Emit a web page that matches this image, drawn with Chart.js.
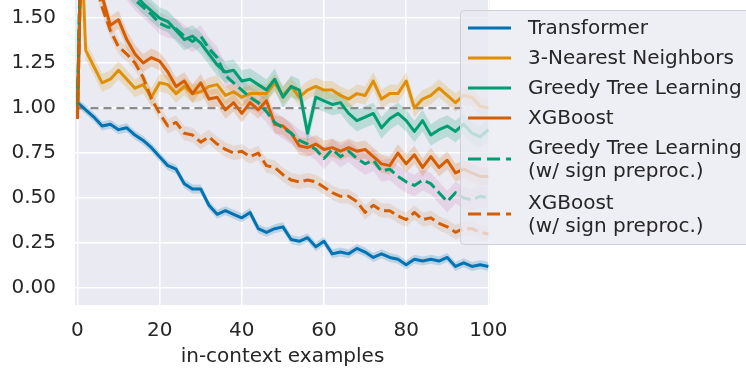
<!DOCTYPE html>
<html>
<head>
<meta charset="utf-8">
<script src="https://cdn.jsdelivr.net/npm/chart.js@4.4.1/dist/chart.umd.min.js"></script>
<style>
  html, body { margin: 0; padding: 0; background: #fff; overflow: hidden; }
  #wrap { position: relative; width: 746px; height: 377px; }
  #legend {
    position: absolute; left: 460px; top: 10px; width: 300px; height: 233px;
    background: rgba(234, 234, 242, 0.8); border: 1px solid #d0d0d8; border-radius: 4px;
    font-family: "DejaVu Sans", sans-serif; font-size: 20px; color: #262626;
  }
  .row { position: absolute; left: 0; display: flex; align-items: center; }
  .row svg { margin-left: 7px; margin-right: 17px; }
  .row span { line-height: 23px; white-space: pre; }
</style>
</head>
<body>
<div id="wrap">
  <canvas id="chart" width="746" height="377"></canvas>
  <div id="legend"></div>
</div>
<script>
// x positions of the evaluated points (in-context examples)
const xs = [0, 1, 2, 4, 6, 8, 10, 12, 14, 16, 18, 20, 22, 24, 26, 28, 30, 32, 34, 36, 38, 40,
  42, 44, 46, 48, 50, 52, 54, 56, 58, 60, 62, 64, 66, 68, 70, 72, 74, 76, 78, 80,
  82, 84, 86, 88, 90, 92, 94, 96, 98, 100];

const transformer = [1.03, 1.01, 0.99, 0.95, 0.90, 0.91, 0.88, 0.89, 0.85, 0.82, 0.78, 0.73, 0.68, 0.66,
  0.58, 0.55, 0.55, 0.46, 0.41, 0.43, 0.41, 0.39, 0.42, 0.33, 0.31, 0.33, 0.34, 0.27, 0.26, 0.28,
  0.23, 0.26, 0.19, 0.20, 0.19, 0.22, 0.20, 0.17, 0.19, 0.17, 0.16, 0.13, 0.16, 0.15, 0.16, 0.15,
  0.17, 0.12, 0.14, 0.12, 0.13, 0.12];
const knn3 = [1.00, 1.90, 1.32, 1.23, 1.14, 1.16, 1.21, 1.16, 1.11, 1.13, 1.06, 1.14, 1.13, 1.08,
  1.12, 1.08, 1.09, 1.12, 1.13, 1.07, 1.09, 1.06, 1.08, 1.08, 1.08, 1.14, 1.07, 1.12, 1.06, 1.10,
  1.12, 1.10, 1.10, 1.07, 1.05, 1.08, 1.07, 1.15, 1.05, 1.08, 1.08, 1.15, 1.00, 1.05, 1.07, 1.11,
  1.07, 1.03, 1.07, 1.06, 1.01, 1.00];
const greedy = [1.00, 2.10, 2.05, 2.00, 1.92, 1.84, 1.76, 1.68, 1.63, 1.58, 1.54, 1.50, 1.48, 1.43,
  1.38, 1.40, 1.36, 1.30, 1.24, 1.20, 1.21, 1.15, 1.16, 1.13, 1.10, 1.16, 1.06, 1.12, 1.10, 0.86,
  1.06, 1.04, 1.02, 1.03, 0.97, 0.93, 0.95, 0.97, 0.89, 0.94, 0.97, 0.93, 0.87, 0.93, 0.85, 0.88,
  0.90, 0.87, 0.91, 0.86, 0.84, 0.88];
const xgboost = [0.94, 2.00, 1.95, 1.78, 1.62, 1.46, 1.49, 1.38, 1.30, 1.25, 1.28, 1.26, 1.20, 1.12,
  1.15, 1.08, 1.14, 1.05, 1.06, 0.99, 1.03, 0.97, 1.03, 0.99, 1.04, 0.91, 0.90, 0.86, 0.79, 0.78,
  0.80, 0.77, 0.78, 0.76, 0.78, 0.76, 0.77, 0.73, 0.69, 0.68, 0.75, 0.69, 0.74, 0.67, 0.73, 0.67,
  0.71, 0.64, 0.66, 0.64, 0.62, 0.62];
const greedySign = [1.02, 2.20, 2.15, 2.05, 1.95, 1.85, 1.76, 1.66, 1.60, 1.56, 1.52, 1.47, 1.45, 1.44,
  1.40, 1.37, 1.40, 1.33, 1.28, 1.18, 1.14, 1.10, 1.06, 1.03, 0.98, 0.92, 0.89, 0.86, 0.82, 0.80,
  0.77, 0.72, 0.77, 0.73, 0.76, 0.72, 0.69, 0.71, 0.65, 0.66, 0.62, 0.59, 0.57, 0.60, 0.58, 0.53,
  0.48, 0.53, 0.50, 0.49, 0.51, 0.50];
const xgboostSign = [0.94, 2.00, 1.85, 1.72, 1.56, 1.43, 1.34, 1.30, 1.25, 1.17, 1.05, 0.97, 0.90, 0.92,
  0.86, 0.85, 0.81, 0.84, 0.80, 0.77, 0.75, 0.76, 0.73, 0.75, 0.68, 0.67, 0.63, 0.60, 0.59, 0.60,
  0.59, 0.56, 0.53, 0.51, 0.51, 0.48, 0.42, 0.46, 0.43, 0.43, 0.40, 0.38, 0.42, 0.38, 0.39, 0.36,
  0.34, 0.31, 0.33, 0.33, 0.31, 0.30];

// half width of the shaded band around each curve
const spreads = [0.025, 0.05, 0.06, 0.05, 0.06, 0.04];

// baseline (dashed grey line at 1.0)
const baselineX = [0, 95];
const baselineY = [1.0, 1.0];

const seriesNames = ['Transformer', '3-Nearest Neighbors', 'Greedy Tree Learning', 'XGBoost',
  'Greedy Tree Learning\n(w/ sign preproc.)', 'XGBoost\n(w/ sign preproc.)'];
const seriesValues = [transformer, knn3, greedy, xgboost, greedySign, xgboostSign];
const lineColors = ['#0173B2', '#DE8F05', '#029E73', '#D55E00', '#029E73', '#D55E00'];
const bandColors = ['#0173B2', '#DE8F05', '#029E73', '#D55E00', '#CC78BC', '#CA9161'];
const dashed = [false, false, false, false, true, true];

const xTicks = [0, 20, 40, 60, 80, 100];
const yTicks = [0, 0.25, 0.5, 0.75, 1.0, 1.25, 1.5];

function hexA(hex, a) {
  const n = parseInt(hex.slice(1), 16);
  return `rgba(${(n >> 16) & 255},${(n >> 8) & 255},${n & 255},${a})`;
}
function pts(vals, d) { return xs.map((x, i) => ({ x: x, y: vals[i] + d })); }

const datasets = [];
seriesValues.forEach((vals, i) => {
  // line itself; lower order = drawn on top
  datasets.push({
    label: seriesNames[i], data: pts(vals, 0),
    borderColor: lineColors[i], borderWidth: 3, pointRadius: 0,
    borderDash: dashed[i] ? [11, 5] : [], borderJoinStyle: 'round',
    fill: false, order: 6 - i
  });
});
seriesValues.forEach((vals, i) => {
  datasets.push({
    label: seriesNames[i] + ' hi', data: pts(vals, spreads[i]),
    borderWidth: 0, pointRadius: 0, backgroundColor: hexA(bandColors[i], 0.2),
    fill: '+1', order: 20 + 2 * i
  });
  datasets.push({
    label: seriesNames[i] + ' lo', data: pts(vals, -spreads[i]),
    borderWidth: 0, pointRadius: 0, fill: false, order: 21 + 2 * i
  });
});
datasets.push({
  label: 'baseline', data: baselineX.map((x, i) => ({ x: x, y: baselineY[i] })),
  borderColor: '#8c8c8c', borderWidth: 2.2, borderDash: [8, 5], pointRadius: 0, fill: false, order: 10
});

const plotBg = {
  id: 'plotBg',
  beforeDraw(c) {
    const { ctx, chartArea: a } = c;
    ctx.save();
    ctx.fillStyle = '#EAEAF2';
    ctx.fillRect(a.left, a.top, a.width, a.height);
    ctx.restore();
  }
};

const font = { family: 'DejaVu Sans', size: 20 };
new Chart(document.getElementById('chart'), {
  type: 'line',
  data: { datasets: datasets },
  plugins: [plotBg],
  options: {
    responsive: false,
    animation: false,
    layout: { padding: { left: 0, right: 256, top: 0, bottom: 0 } },
    plugins: { legend: { display: false }, tooltip: { enabled: false } },
    scales: {
      x: {
        type: 'linear', min: -0.6, max: 100.4,
        afterBuildTicks: s => { s.ticks = xTicks.map(v => ({ value: v })); },
        afterFit: s => { s.height = 72; },
        ticks: { font: font, color: '#262626', padding: 14, maxRotation: 0, autoSkip: false },
        grid: { color: '#ffffff', lineWidth: 1.6, drawTicks: false },
        border: { display: false },
        title: { display: true, text: 'in-context examples', font: font, color: '#262626',
          padding: { top: 0, bottom: 8 } }
      },
      y: {
        type: 'linear', min: -0.094, max: 1.6,
        afterBuildTicks: s => { s.ticks = yTicks.map(v => ({ value: v })); },
        afterFit: s => { s.width = 75; s.paddingTop = 0; s.paddingBottom = 0; },
        ticks: { font: font, color: '#262626', padding: 19, callback: v => v.toFixed(2) },
        grid: { color: '#ffffff', lineWidth: 1.6, drawTicks: false },
        border: { display: false }
      }
    }
  }
});

// legend, built from the series arrays
const legendBox = document.getElementById('legend');
let rowTop = 5;
seriesNames.forEach((name, i) => {
  const lines = name.split('\n').length;
  const row = document.createElement('div');
  row.className = 'row';
  row.style.top = rowTop + 'px';
  const dash = dashed[i] ? 'stroke-dasharray="13 6"' : '';
  row.innerHTML = `<svg width="43" height="6"><line x1="0" y1="3" x2="43" y2="3" stroke="${lineColors[i]}" stroke-width="3" ${dash}/></svg><span></span>`;
  row.querySelector('span').textContent = name;
  legendBox.appendChild(row);
  rowTop += lines * 23 + (lines > 1 ? 9 : 7);
});
</script>
</body>
</html>
